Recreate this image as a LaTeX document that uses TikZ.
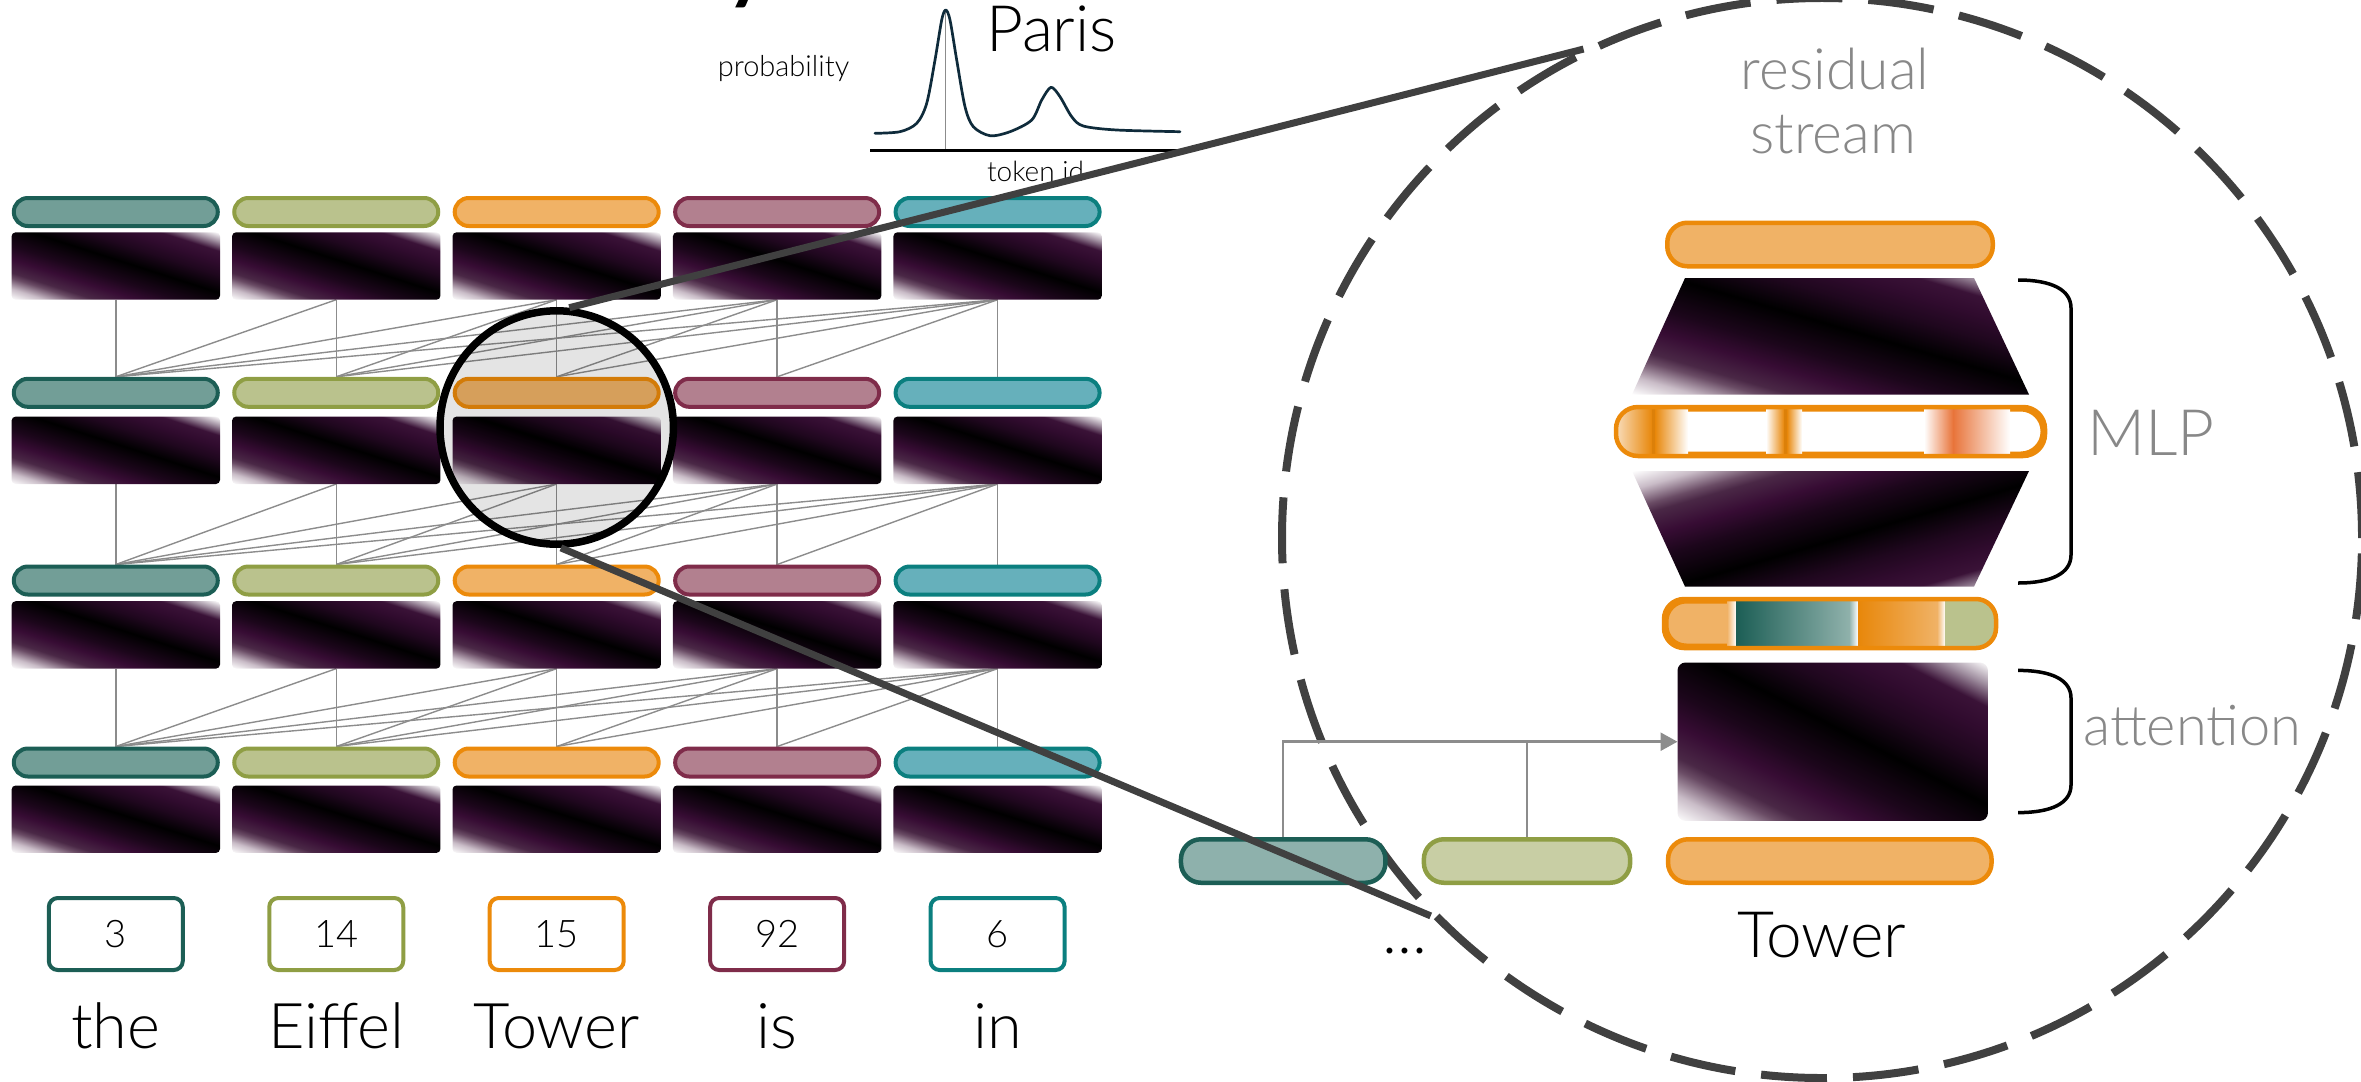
\documentclass[tikz,border=0pt]{standalone}
\usepackage{fontspec}
\setmainfont{Lato}
\newfontfamily\lightfont{Lato Light}
\usetikzlibrary{arrows.meta}
\pgfdeclarelayer{bg}
\pgfsetlayers{bg,main}

\definecolor{tealD}{HTML}{1C5E55}
\definecolor{tealF}{HTML}{729E97}
\definecolor{oliveD}{HTML}{8F9E44}
\definecolor{oliveF}{HTML}{BAC28D}
\definecolor{orD}{HTML}{EC8A0A}
\definecolor{orF}{HTML}{F0B266}
\definecolor{plumD}{HTML}{7F2C4A}
\definecolor{plumF}{HTML}{B2808F}
\definecolor{cyD}{HTML}{0B7F7F}
\definecolor{cyF}{HTML}{66B0BB}
\definecolor{connc}{HTML}{8C8C8C}
\definecolor{lineD}{HTML}{404040}
\definecolor{txtG}{HTML}{888888}
\definecolor{curveC}{HTML}{0F2B3B}
\definecolor{ga}{HTML}{C9BCC7}
\definecolor{gb}{HTML}{6A4C65}
\definecolor{gc}{HTML}{4A2846}
\definecolor{gd}{HTML}{370C34}
\definecolor{gk}{HTML}{1C061B}
\definecolor{gl}{HTML}{1F071E}
\definecolor{ge}{HTML}{300B2E}
\definecolor{gf}{HTML}{3A1237}
\definecolor{gg}{HTML}{A08FA0}
\definecolor{orBlob}{HTML}{E8870A}
\definecolor{redBlob}{HTML}{E8743A}
\definecolor{tealL}{HTML}{8FB1AB}

\pgfdeclarehorizontalshading{attn}{100bp}{color(0bp)=(white); color(25bp)=(white); color(29bp)=(ga); color(33bp)=(gb); color(35bp)=(gc); color(40bp)=(gd); color(45bp)=(gk); color(52.5bp)=(black); color(59bp)=(gl); color(64bp)=(ge); color(68bp)=(gf); color(71.5bp)=(gg); color(75bp)=(white); color(100bp)=(white)}

\newcommand\fs[1]{\lightfont\fontsize{#1bp}{#1bp}\selectfont}
% #1 clip path, #2 centre, #3 half width, #4 half height
\newcommand\shadeclip[4]{%
  \begin{scope}
    \clip #1;
    \begin{scope}[transform canvas={shift={(#2)},xscale=#3/100,yscale=#4/100,rotate=45}]
      \shade[shading=attn] (-141.42,-160) rectangle (141.42,160);
    \end{scope}
  \end{scope}}
\newcommand\shadeclipflip[4]{%
  \begin{scope}
    \clip #1;
    \begin{scope}[transform canvas={shift={(#2)},xscale=#3/100,yscale=-#4/100,rotate=45}]
      \shade[shading=attn] (-141.42,-160) rectangle (141.42,160);
    \end{scope}
  \end{scope}}

\begin{document}
\begin{tikzpicture}[x=1bp,y=-1bp,
  pill/.style={draw, line width=4bp, rounded corners=14bp, minimum width=204bp, minimum height=28bp, inner sep=0pt},
  mat/.style={minimum width=208bp, minimum height=67bp, inner sep=0pt},
  conn/.style={draw=connc, line width=1.4bp},
  idbox/.style={draw, line width=4bp, rounded corners=9bp, minimum width=134bp, minimum height=72bp, fill=white, inner sep=0pt, font=\fs{38}},
  word/.style={anchor=base, inner sep=0pt, font=\fs{63}},
  lbl/.style={inner sep=0pt, text=txtG},
  zoomline/.style={draw=lineD, line width=7bp},
  bigpill/.style={draw=orD, line width=4.5bp, rounded corners=20bp, inner sep=0pt, minimum height=43.5bp},
  rconn/.style={draw=connc, line width=2.5bp},
  brace/.style={draw=black, line width=3.5bp}]
\useasboundingbox (0,0) rectangle (2361,1081);

% ---------- left grid ----------
\foreach \i/\dk/\fl/\tnum/\twrd in {1/tealD/tealF/3/the, 2/oliveD/oliveF/14/Eiffel, 3/orD/orF/15/Tower, 4/plumD/plumF/92/is, 5/cyD/cyF/6/in}{
  \pgfmathsetmacro\cx{115.8+220.45*(\i-1)}
  \foreach \r/\py/\my in {1/212/266, 2/392.8/450.3, 3/580.5/634.9, 4/762.5/819.2}{
    \node[pill, draw=\dk, fill=\fl] (p\r\i) at (\cx,\py) {};
    \node[mat] (m\r\i) at (\cx,\my) {};
    \shadeclip{[rounded corners=4bp] (m\r\i.south west) rectangle (m\r\i.north east)}{m\r\i.center}{104}{33.5}
  }
  \node[idbox, draw=\dk] (t\i) at (\cx,934) {\tnum};
  \node[word] (w\i) at (\cx,1048) {\twrd};
}

\begin{pgfonlayer}{bg}
\foreach \r [evaluate=\r as \rn using int(\r+1)] in {1,2,3}{
  \foreach \i in {1,...,5}{
    \foreach \j in {1,...,\i}{
      \draw[conn] (m\r\i.south) -- (p\rn\j.north);
    }
  }
}
\end{pgfonlayer}

% lens
\node[circle, draw=black, line width=7.5bp, fill=black, fill opacity=0.105, minimum size=233.4bp, inner sep=0pt] (lens) at (556.7,427.5) {};

% ---------- output distribution ----------
\node[anchor=base, inner sep=0pt, font=\fontsize{80bp}{80bp}\selectfont\bfseries] (ttl) at (748,-6) {y};
\coordinate (ax0) at (870,150.7);
\coordinate (ax1) at (1178,150.7);
\coordinate (pk) at (945.7,10);
\coordinate (pkb) at (945.7,150.7);
\draw[connc, line width=1.2bp] (pk) -- (pkb);
\draw[black, line width=3.5bp] (ax0) -- (ax1);
\draw[curveC, line width=2.7bp, line join=round, line cap=round] plot[smooth, tension=0.5] coordinates {
 (875,133.3) (900,131.7) (916.7,123.3) (926.7,103.3) (935,60) (941.7,20) (945.7,10) (950,20) (956.7,60) (965,106.7) (973.3,126.7) (990,135.7) (1010,131.7) (1031.7,120) (1041.7,100) (1051,87.3) (1060,96.7) (1071.7,116.7) (1083.3,126) (1116.7,130) (1180,131.7)};
\node[anchor=base, inner sep=0pt, font=\fs{64}] (paris) at (1051.5,51.7) {Paris};
\node[anchor=base, inner sep=0pt, font=\fs{29}] (prob) at (783.5,76) {probability};
\node[anchor=base, inner sep=0pt, font=\fs{28}] (tokid) at (1035.5,181.7) {token id};

% ---------- zoomed view ----------
\node[circle, draw=lineD, line width=8bp, dash pattern=on 66bp off 26bp, minimum size=1080bp, inner sep=0pt] (res) at (1822,538) {};

\node[anchor=base, lbl, font=\fs{57}] (rs1) at (1835,89) {residual};
\node[anchor=base, lbl, font=\fs{57}] (rs2) at (1833,153) {stream};

\node[bigpill, fill=orF, minimum width=325.5bp] (rtop) at (1830,244.5) {};

\coordinate (ua) at (1685,278);
\coordinate (ub) at (1974,278);
\coordinate (uc) at (2029,394.5);
\coordinate (ud) at (1632,394.5);
\shadeclip{(ua) -- (ub) -- (uc) -- (ud) -- cycle}{1830.5,336.25}{198.5}{58.25}

\node[bigpill, fill=white, minimum width=424.5bp, minimum height=44.5bp, rounded corners=22bp] (hid) at (1830.5,431.5) {};
\begin{scope}
  \clip[rounded corners=22bp] (hid.south west) rectangle (hid.north east);
  \shade[left color=orF!45, right color=orBlob] (1616,400) rectangle (1652,462);
  \fill[orBlob!95!black] (1651.5,400) rectangle (1655,462);
  \shade[left color=orBlob, right color=white] (1655,400) rectangle (1688,462);
  \shade[left color=white, right color=orBlob] (1766,400) rectangle (1784,462);
  \fill[orBlob!95!black] (1783.5,400) rectangle (1787,462);
  \shade[left color=orBlob, right color=white] (1787,400) rectangle (1802,462);
  \shade[left color=white, right color=redBlob] (1924,400) rectangle (1953,462);
  \shade[left color=redBlob, right color=white] (1953,400) rectangle (2010,462);
\end{scope}
\draw[draw=orD, line width=4.5bp, rounded corners=22bp] (hid.south west) rectangle (hid.north east);

\coordinate (la) at (1632,471);
\coordinate (lb) at (2029,471);
\coordinate (lc) at (1974,586.6);
\coordinate (ld) at (1685,586.6);
\shadeclipflip{(la) -- (lb) -- (lc) -- (ld) -- cycle}{1830.5,528.8}{198.5}{57.8}

\node[bigpill, fill=orF, minimum width=327.5bp, minimum height=44.5bp] (aout) at (1830,623.5) {};
\begin{scope}
  \clip[rounded corners=20bp] (aout.south west) rectangle (aout.north east);
  \shade[left color=orF, right color=white] (1727,590) rectangle (1736,660);
  \shade[left color=tealD, right color=tealL] (1736,590) rectangle (1849,660);
  \shade[left color=tealL, right color=white] (1849,590) rectangle (1858,660);
  \shade[left color=orBlob, right color=orF] (1858,590) rectangle (1937,660);
  \shade[left color=orF, right color=white] (1937,590) rectangle (1945,660);
  \fill[oliveF] (1945,590) rectangle (2002,660);
\end{scope}
\draw[draw=orD, line width=4.5bp, rounded corners=20bp] (aout.south west) rectangle (aout.north east);

\node[minimum width=310bp, minimum height=158bp, inner sep=0pt] (attn) at (1832.7,741.7) {};
\shadeclip{[rounded corners=8bp] (attn.south west) rectangle (attn.north east)}{attn.center}{155}{79}

% brackets
\coordinate (bm1) at (2018,280);
\coordinate (bm2) at (2018,583);
\draw[brace] (bm1) .. controls (2052,280) and (2071,290) .. (2071,308) -- (2071,555) .. controls (2071,573) and (2052,583) .. (bm2);
\coordinate (ba1) at (2018,670.4);
\coordinate (ba2) at (2018,812.6);
\draw[brace] (ba1) .. controls (2052,670.4) and (2071,680) .. (2071,698) -- (2071,785) .. controls (2071,803) and (2052,812.6) .. (ba2);

\node[anchor=base west, lbl, font=\fs{64}] (mlp) at (2087,455) {MLP};
\node[anchor=base west, lbl, font=\fs{56}] (attl) at (2083,745) {attention};

% bottom residual pills
\node[bigpill, draw=tealD, fill=tealF!80, minimum width=204.5bp] (rb1) at (1283.2,861) {};
\node[bigpill, draw=oliveD, fill=oliveF!80, minimum width=206.3bp] (rb2) at (1527,861) {};
\node[bigpill, fill=orF, minimum width=323.5bp] (rb3) at (1829.8,861) {};

\draw[rconn, -{Triangle[length=17bp,width=18bp]}] (rb1.north) |- (attn.west);
\draw[rconn] (rb2.north) -- (rb2.north |- attn.west);

\node[anchor=base, inner sep=0pt, font=\fs{64}] (tw) at (1822,957.5) {Tower};
\node[anchor=base, inner sep=0pt, font=\fs{64}] (dots) at (1405,953) {...};

% zoom lines
\draw[zoomline] (lens.84) -- (res.116);
\draw[zoomline] (lens.272) -- (res.224);
\end{tikzpicture}
\end{document}
